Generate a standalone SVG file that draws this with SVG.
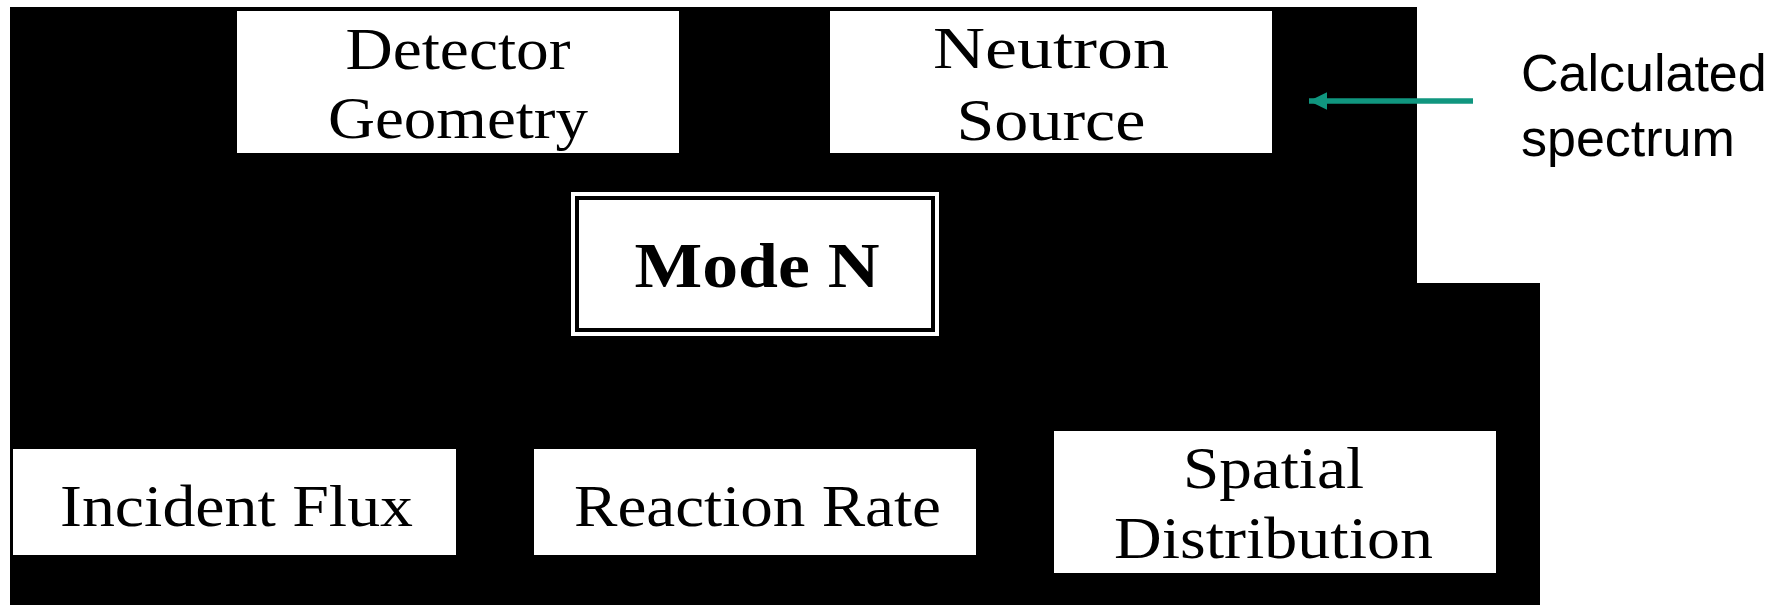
<svg xmlns="http://www.w3.org/2000/svg" width="1787" height="605" viewBox="0 0 1787 605">
<style>
.box{fill:#ffffff;stroke:none}
.t{font-family:"Liberation Serif","Times New Roman",serif;font-size:59px;fill:#000;text-anchor:middle}
.tb{font-family:"Liberation Serif","Times New Roman",serif;font-size:63px;font-weight:bold;fill:#000;text-anchor:middle}
.lbl{font-family:"Liberation Sans",Arial,sans-serif;font-size:52px;fill:#000}
</style>
<defs>
<marker id="ah" markerUnits="userSpaceOnUse" markerWidth="20" markerHeight="20" refX="18" refY="9" orient="auto">
<polygon points="0,0.3 18,9 0,17.7" fill="#10967f"/>
</marker>
</defs>
<rect x="0" y="0" width="1787" height="605" fill="#ffffff"/>
<polygon points="10,7 1417,7 1417,283 1540,283 1540,605 10,605" fill="#000000"/>
<g id="detector-geometry">
<rect class="box" x="237" y="11" width="442" height="142"/>
<text class="t" x="458" y="69" textLength="225" lengthAdjust="spacingAndGlyphs">Detector</text>
<text class="t" x="458" y="138" textLength="260" lengthAdjust="spacingAndGlyphs">Geometry</text>
</g>
<g id="neutron-source">
<rect class="box" x="830" y="11" width="442" height="142"/>
<text class="t" x="1051" y="68" textLength="236" lengthAdjust="spacingAndGlyphs">Neutron</text>
<text class="t" x="1051" y="140" textLength="189" lengthAdjust="spacingAndGlyphs">Source</text>
</g>
<g id="mode-n">
<rect class="box" x="571" y="192" width="368" height="144"/>
<rect x="577" y="198" width="356" height="132" fill="none" stroke="#000" stroke-width="4"/>
<text class="tb" x="757" y="287" textLength="245" lengthAdjust="spacingAndGlyphs">Mode N</text>
</g>
<g id="incident-flux">
<rect class="box" x="13" y="449" width="443" height="106"/>
<text class="t" x="236.5" y="526" textLength="353" lengthAdjust="spacingAndGlyphs">Incident Flux</text>
</g>
<g id="reaction-rate">
<rect class="box" x="534" y="449" width="442" height="106"/>
<text class="t" x="757.5" y="526" textLength="367" lengthAdjust="spacingAndGlyphs">Reaction Rate</text>
</g>
<g id="spatial-distribution">
<rect class="box" x="1054" y="431" width="442" height="142"/>
<text class="t" x="1273.5" y="488" textLength="181" lengthAdjust="spacingAndGlyphs">Spatial</text>
<text class="t" x="1273.5" y="558" textLength="319" lengthAdjust="spacingAndGlyphs">Distribution</text>
</g>
<g id="calculated-spectrum">
<text class="lbl" x="1521" y="91">Calculated</text>
<text class="lbl" x="1521" y="156">spectrum</text>
</g>
<g id="connectors">
<line x1="1473" y1="101" x2="1309" y2="101" stroke="#10967f" stroke-width="5.5" marker-end="url(#ah)"/>
</g>
</svg>
